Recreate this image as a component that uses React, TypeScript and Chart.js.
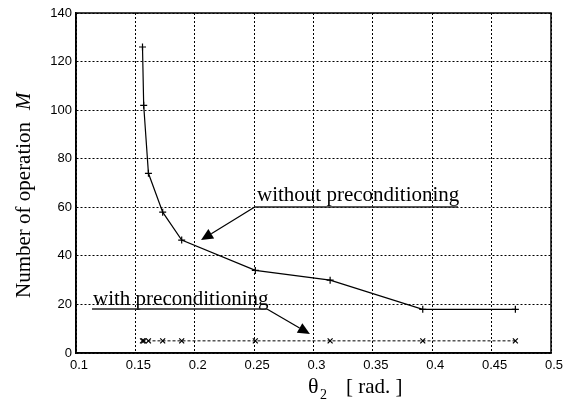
import React, { useEffect, useRef } from "react";
import { Chart, registerables } from "chart.js";

Chart.register(...registerables);

// ---- data ----
const thetaValues = [0.156, 0.157, 0.161, 0.173, 0.189, 0.251, 0.314, 0.392, 0.47];
const withoutPreconditioning = [126, 102, 74, 58, 46.5, 34, 30, 18, 18];
const withPreconditioning = [5, 5, 5, 5, 5, 5, 5, 5, 5];
const xTickValues = [0.1, 0.15, 0.2, 0.25, 0.3, 0.35, 0.4, 0.45, 0.5];
const yTickValues = [0, 20, 40, 60, 80, 100, 120, 140];

const SERIF = '"Liberation Serif", "Times New Roman", serif';
const SANS = '"Liberation Sans", Arial, sans-serif';

function arrow(ctx: CanvasRenderingContext2D, x0: number, y0: number, x1: number, y1: number) {
  const dx = x1 - x0;
  const dy = y1 - y0;
  const len = Math.hypot(dx, dy);
  const ux = dx / len;
  const uy = dy / len;
  const hl = 12;
  const hw = 5.5;
  const bx = x1 - ux * hl;
  const by = y1 - uy * hl;
  ctx.beginPath();
  ctx.moveTo(x0, y0);
  ctx.lineTo(bx, by);
  ctx.stroke();
  ctx.beginPath();
  ctx.moveTo(x1, y1);
  ctx.lineTo(bx - uy * hw, by + ux * hw);
  ctx.lineTo(bx + uy * hw, by - ux * hw);
  ctx.closePath();
  ctx.fill();
}

const decorPlugin = {
  id: "decor",
  afterDraw(chart: any) {
    const { ctx, chartArea: a, scales } = chart;
    const xs = scales.x;
    const ys = scales.y;
    const px = (v: number) => xs.getPixelForValue(v);
    const py = (v: number) => ys.getPixelForValue(v);
    ctx.save();
    // frame
    ctx.strokeStyle = "#000";
    ctx.lineWidth = 1.5;
    ctx.strokeRect(a.left, a.top, a.right - a.left, a.bottom - a.top);

    // annotations
    ctx.fillStyle = "#000";
    ctx.font = `21px ${SERIF}`;
    ctx.textAlign = "left";
    ctx.textBaseline = "alphabetic";
    ctx.fillText("without preconditioning", px(0.2524), py(62.6));
    ctx.fillText("with preconditioning", px(0.1143), py(19.8));

    ctx.strokeStyle = "#222";
    ctx.lineWidth = 1.5;
    ctx.beginPath();
    ctx.moveTo(px(0.2505), py(60.1));
    ctx.lineTo(px(0.4217), py(60.1));
    ctx.stroke();
    ctx.beginPath();
    ctx.moveTo(px(0.1135), py(18.1));
    ctx.lineTo(px(0.2608), py(18.1));
    ctx.stroke();

    ctx.lineWidth = 1.2;
    ctx.strokeStyle = "#000";
    arrow(ctx, px(0.2505), py(60.1), px(0.2053), py(46.5));
    arrow(ctx, px(0.2608), py(18.1), px(0.297), py(7.8));

    // x axis title
    ctx.font = `22px ${SERIF}`;
    ctx.textBaseline = "alphabetic";
    ctx.fillText("θ", 308, 393);
    ctx.font = `14px ${SERIF}`;
    ctx.fillText("2", 320, 399);
    ctx.font = `21px ${SERIF}`;
    ctx.fillText("[ rad. ]", 346, 393);

    // y axis title
    ctx.translate(30, 298);
    ctx.rotate(-Math.PI / 2);
    ctx.font = `21px ${SERIF}`;
    ctx.textAlign = "left";
    ctx.fillText("Number of operation", 0, 0);
    const w = ctx.measureText("Number of operation").width;
    ctx.font = `italic 21px ${SERIF}`;
    ctx.fillText("M", w + 12, 0);
    ctx.restore();
  },
};

export default function App() {
  const ref = useRef<HTMLCanvasElement | null>(null);
  useEffect(() => {
    document.body.style.margin = "0";
    document.body.style.background = "#fff";
    if (!ref.current) return;
    const chart = new Chart(ref.current, {
      type: "line",
      data: {
        datasets: [
          {
            label: "without preconditioning",
            data: thetaValues.map((t, i) => ({ x: t, y: withoutPreconditioning[i] })),
            borderColor: "#000",
            borderWidth: 1.2,
            pointStyle: "cross",
            pointRadius: 3.5,
            pointBorderColor: "#000",
            pointBorderWidth: 1.2,
            tension: 0,
            fill: false,
          },
          {
            label: "with preconditioning",
            data: thetaValues.map((t, i) => ({ x: t, y: withPreconditioning[i] })),
            borderColor: "#000",
            borderWidth: 1,
            borderDash: [3, 2],
            pointStyle: "crossRot",
            pointRadius: 3.5,
            pointBorderColor: "#000",
            pointBorderWidth: 1.2,
            tension: 0,
            fill: false,
          },
        ],
      },
      options: {
        animation: false,
        responsive: false,
        maintainAspectRatio: false,
        layout: { padding: { top: 13, right: 19, left: 0, bottom: 0 } },
        plugins: { legend: { display: false }, tooltip: { enabled: false }, title: { display: false } },
        scales: {
          x: {
            type: "linear",
            min: 0.1,
            max: 0.5,
            afterBuildTicks: (s: any) => {
              s.ticks = xTickValues.map((v) => ({ value: v }));
            },
            afterFit: (s: any) => {
              s.height = 55;
              s.paddingLeft = 0;
              s.paddingRight = 0;
              s.paddingTop = 0;
              s.paddingBottom = 0;
            },
            ticks: {
              color: "#000",
              font: { family: SANS, size: 13 },
              padding: 5,
              labelOffset: 3,
              maxRotation: 0,
              autoSkip: false,
              callback: (v: any) => String(v),
            },
            grid: { color: "#000", lineWidth: 1, drawTicks: false },
            border: { display: true, color: "#000", width: 1.5, dash: [2, 2] },
          },
          y: {
            type: "linear",
            min: 0,
            max: 140,
            afterBuildTicks: (s: any) => {
              s.ticks = yTickValues.map((v) => ({ value: v }));
            },
            afterFit: (s: any) => {
              s.width = 76;
              s.paddingLeft = 0;
              s.paddingRight = 0;
              s.paddingTop = 0;
              s.paddingBottom = 0;
            },
            ticks: {
              color: "#000",
              font: { family: SANS, size: 13 },
              padding: 4,
              autoSkip: false,
              callback: (v: any) => String(v),
            },
            grid: { color: "#000", lineWidth: 1, drawTicks: false },
            border: { display: true, color: "#000", width: 1.5, dash: [2, 2] },
          },
        },
      },
      plugins: [decorPlugin],
    });
    return () => chart.destroy();
  }, []);
  return (
    <div style={{ position: "absolute", left: 0, top: 0, width: 570, height: 408 }}>
      <canvas ref={ref} width={570} height={408} style={{ width: 570, height: 408 }} />
    </div>
  );
}
